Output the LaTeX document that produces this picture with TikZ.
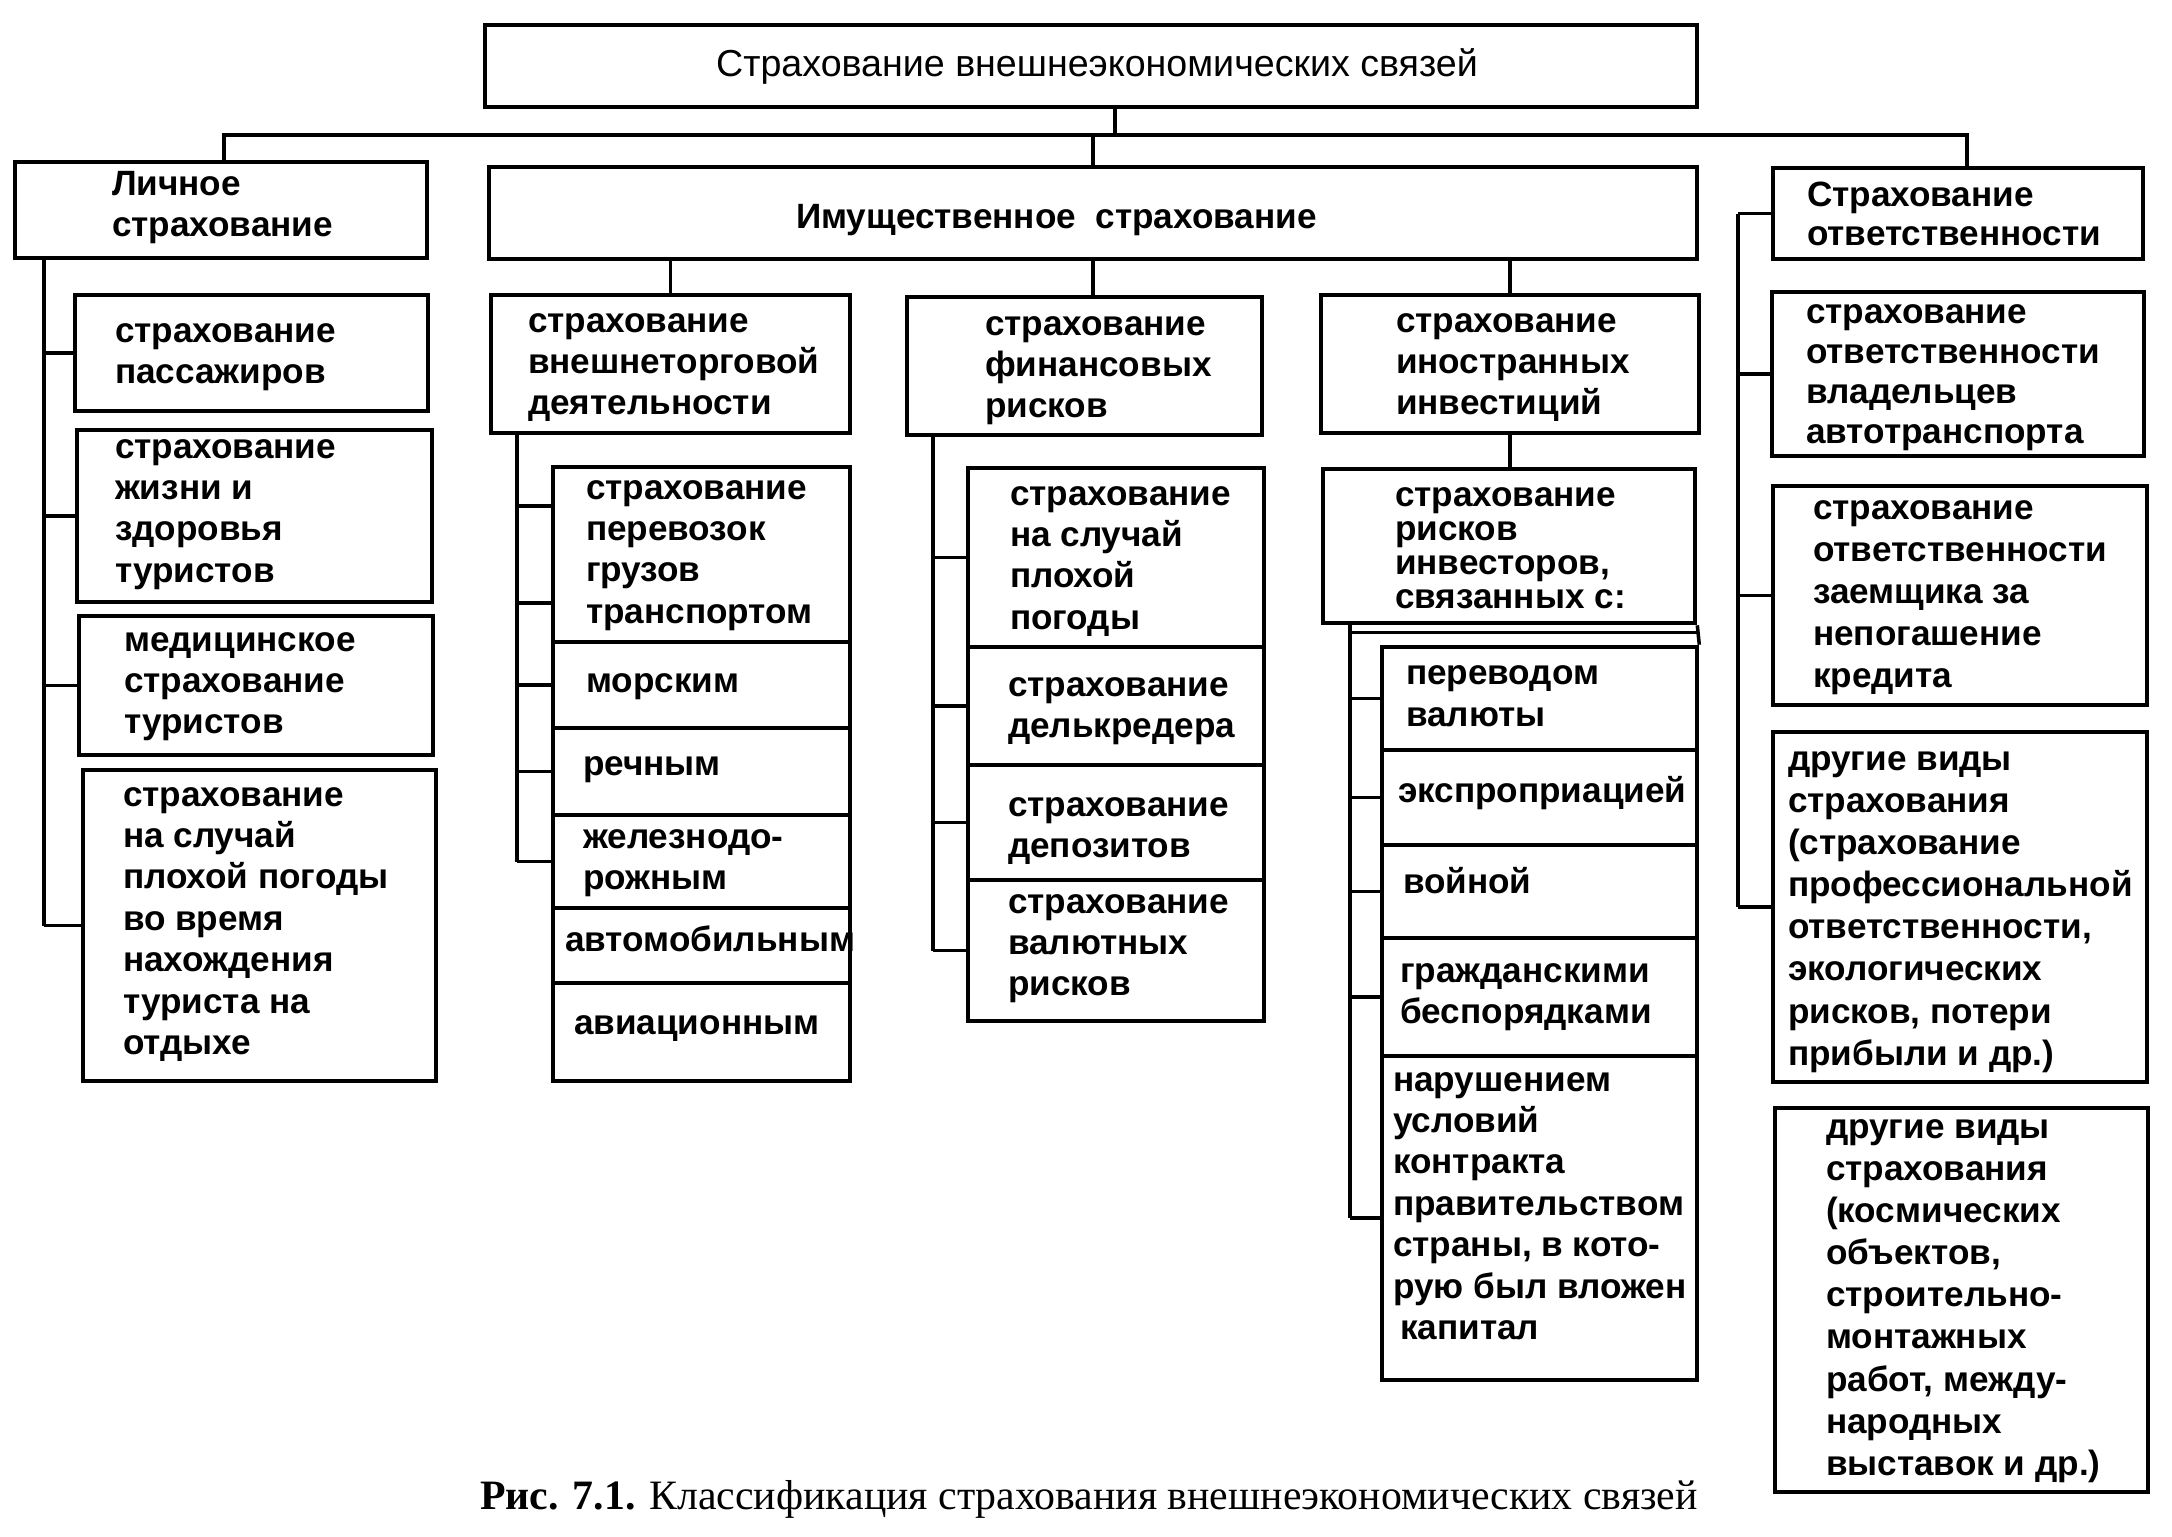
\documentclass[tikz,border=0pt]{standalone}
\usepackage{fontspec}
\setmainfont{Liberation Sans}
\newfontfamily\capfont{Liberation Serif}
\usetikzlibrary{fit,calc}

% box from two corners, then its text
\newcommand{\cell}[6][txt]{%
  \node[box, fit={(#3) (#4)}] (#2) {};
  \node[#1] (#2-t) at (#5) {\strut#6};}

\begin{document}
\begin{tikzpicture}[x=0.1mm, y=-0.1mm,
  box/.style={draw, line width=1.3pt, inner sep=0pt},
  txt/.style={anchor=north west, align=left, inner sep=0pt, outer sep=0pt, yshift={0.7*#1pt},
    font=\fontsize{10}{#1}\selectfont\bfseries},
  txt/.default=11.8,
  head/.style={anchor=base, inner sep=0pt, font=\fontsize{10.7}{12}\selectfont},
  link/.style={line width=1pt}
]
\useasboundingbox (0,0) rectangle (2172,1536);

% level 0 and 1
\cell[head]{root}{485,25}{1697,107}{1097,76}{Страхование внешнеэкономических связей}
\cell{personal}{15,162}{427,258}{112,195}{Личное\\страхование}
\cell{property}{489,167}{1697,259}{796,228}{Имущественное\ \ страхование}
\cell[txt=11.2]{liability}{1773,168}{2143,259}{1807,206}{Страхование\\ответственности}

% personal
\cell{pass}{75,295}{428,411}{115,342}{страхование\\пассажиров}
\cell{life}{77,430}{432,602}{115,458}{страхование\\жизни и\\здоровья\\туристов}
\cell{med}{79,616}{433,755}{124,651}{медицинское\\страхование\\туристов}
\cell{weather}{83,770}{436,1081}{123,806}{страхование\\на случай\\плохой погоды\\во время\\нахождения\\туриста на\\отдыхе}

% property
\cell{ft}{491,295}{850,433}{528,332}{страхование\\внешнеторговой\\деятельности}
\cell{fin}{907,297}{1262,435}{985,335}{страхование\\финансовых\\рисков}
\cell{inv}{1321,295}{1699,433}{1396,332}{страхование\\иностранных\\инвестиций}

\cell{cargo}{553,467}{850,642}{586,499}{страхование\\перевозок\\грузов\\транспортом}
\cell{sea}{553,642}{850,728}{586,692}{морским}
\cell{river}{553,728}{850,815}{583,775}{речным}
\cell{rail}{553,815}{850,908}{583,848}{железнодо-\\рожным}
\cell{auto}{553,908}{850,983}{565,951}{автомобильным}
\cell{air}{553,983}{850,1081}{574,1034}{авиационным}

\cell{badwx}{968,468}{1264,647}{1010,505}{страхование\\на случай\\плохой\\погоды}
\cell{delcred}{968,647}{1264,765}{1008,696}{страхование\\делькредера}
\cell{depo}{968,765}{1264,880}{1008,816}{страхование\\депозитов}
\cell{fx}{968,880}{1264,1021}{1008,913}{страхование\\валютных\\рисков}

\cell[txt=9.7]{invrisk}{1323,469}{1695,623}{1395,506}{страхование\\рисков\\инвесторов,\\связанных с:}
\cell[txt=12.2]{conv}{1382,647}{1697,750}{1406,684}{переводом\\валюты}
\cell{expr}{1382,750}{1697,845}{1398,802}{экспроприацией}
\cell{war}{1382,845}{1697,938}{1403,893}{войной}
\cell{riot}{1382,938}{1697,1056}{1400,982}{гражданскими\\беспорядками}
\cell{breach}{1382,1056}{1697,1380}{1393,1091}{нарушением\\условий\\контракта\\правительством\\страны, в кото-\\рую был вложен\\\hspace*{2pt}капитал}

% liability
\cell[txt=11.4]{owners}{1772,292}{2144,456}{1806,323}{страхование\\ответственности\\владельцев\\автотранспорта}
\cell[txt=12]{borrower}{1773,486}{2147,705}{1813,519}{страхование\\ответственности\\заемщика за\\непогашение\\кредита}
\cell[txt=12]{otherA}{1773,732}{2147,1082}{1788,770}{другие виды\\страхования\\(страхование\\профессиональной\\ответственности,\\экологических\\рисков, потери\\прибыли и др.)}
\cell[txt=12]{otherB}{1775,1108}{2148,1492}{1826,1138}{другие виды\\страхования\\(космических\\объектов,\\строительно-\\монтажных\\работ, между-\\народных\\выставок и др.)}

% bus under the root
\coordinate (bus) at (1115,135);
\coordinate (busL) at (224,135);
\coordinate (busR) at (1967,135);
\draw[link] (bus |- root.south) -- (bus);
\draw[link] (busL |- personal.north) -- (busL) -- (busR) -- (busR |- liability.north);
\draw[link] (property.north) -- (property.north |- bus);

% drops under property
\draw[link] (ft.north) -- (ft.north |- property.south);
\draw[link] (property.south) -- (property.south |- fin.north);
\draw[link] (inv.north) -- (inv.north |- property.south);
\draw[link] (inv.south) -- (inv.south |- invrisk.north);

% trunks with ticks
\coordinate (tP) at (44,0);
\coordinate (tF) at (517,0);
\coordinate (tN) at (933,0);
\coordinate (tI) at (1350,0);
\coordinate (tL) at (1738,0);
\coordinate (cargo-a) at ($(cargo.north west)!.23!(cargo.south west)$);
\coordinate (cargo-b) at ($(cargo.north west)!.77!(cargo.south west)$);

\draw[link] (tP |- personal.south) -- (tP |- weather.west);
\foreach \n in {pass,life,med,weather}
  \draw[link] (tP |- \n.west) -- (\n.west);

\draw[link] (tF |- ft.south) -- (tF |- rail.west);
\foreach \p in {cargo-a,cargo-b,sea.west,river.west,rail.west}
  \draw[link] (tF |- \p) -- (\p);

\draw[link] (tN |- fin.south) -- (tN |- fx.west);
\foreach \n in {badwx,delcred,depo,fx}
  \draw[link] (tN |- \n.west) -- (\n.west);

\draw[link] (tI |- invrisk.south) -- (tI |- breach.west);
\draw[link] ([yshift=-2pt]tI |- invrisk.south) -- ([yshift=-2pt]invrisk.south east);
\draw[link] (invrisk.south east) -- (conv.north east);
\foreach \n in {conv,expr,war,riot,breach}
  \draw[link] (tI |- \n.west) -- (\n.west);

\draw[link] (tL |- liability.west) -- (tL |- otherA.west);
\foreach \n in {liability,owners,borrower,otherA}
  \draw[link] (tL |- \n.west) -- (\n.west);

\node[anchor=base, inner sep=0pt, font=\capfont\fontsize{11.9}{14}\selectfont] (caption) at (1089,1509)
  {\textbf{Рис. 7.1.} Классификация страхования внешнеэкономических связей};
\end{tikzpicture}
\end{document}
